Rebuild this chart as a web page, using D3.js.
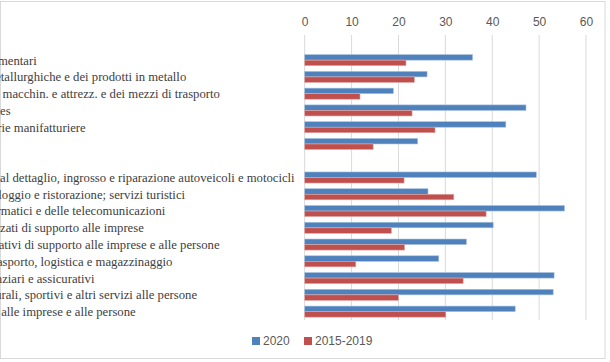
<!DOCTYPE html>
<html><head><meta charset="utf-8">
<script src="https://cdn.jsdelivr.net/npm/d3@7"></script>
<style>body{margin:0;background:#fff;overflow:hidden}</style>
</head><body>
<svg id="c" width="610" height="362"></svg>
<script>
const categories = [
  "Industria",
  "Industrie alimentari",
  "Industrie metallurghiche e dei prodotti in metallo",
  "Ind. fabbric. macchin. e attrezz. e dei mezzi di trasporto",
  "Public utilities",
  "Altre industrie manifatturiere",
  "Costruzioni",
  "Servizi",
  "Commercio al dettaglio, ingrosso e riparazione autoveicoli e motocicli",
  "Servizi di alloggio e ristorazione; servizi turistici",
  "Servizi informatici e delle telecomunicazioni",
  "Servizi avanzati di supporto alle imprese",
  "Servizi operativi di supporto alle imprese e alle persone",
  "Servizi di trasporto, logistica e magazzinaggio",
  "Servizi finanziari e assicurativi",
  "Servizi culturali, sportivi e altri servizi alle persone",
  "Altri servizi alle imprese e alle persone"
];
const values2020 = [null, 35.8, 26.1, 18.9, 47.2, 42.9, 24.1, null, 49.4, 26.3, 55.4, 40.2, 34.5, 28.6, 53.2, 53.0, 44.9];
const values1519 = [null, 21.6, 23.4, 11.8, 22.9, 27.8, 14.6, null, 21.2, 31.8, 38.7, 18.5, 21.3, 10.9, 33.8, 20.0, 30.1];
const seriesNames = ["2020", "2015-2019"];
const seriesColors = ["#4F81BD", "#C0504D"];
const xTicks = [0, 10, 20, 30, 40, 50, 60];

const svg = d3.select("#c");
svg.append("rect").attr("x",0.5).attr("y",1.5).attr("width",604.5).attr("height",357)
  .attr("fill","#fff").attr("stroke","#d9d9d9");

const plotTop = 35, plotBottom = 320;
const x = d3.scaleLinear().domain([0, 60]).range([304.7, 586]);
const y0 = d3.scaleBand().domain(d3.range(categories.length)).range([plotTop, plotBottom])
  .paddingInner(0.34).paddingOuter(0.17);
const y1 = d3.scaleBand().domain(seriesNames).range([0, y0.bandwidth()]);

// gridlines
svg.append("g").selectAll("line").data(xTicks).join("line")
  .attr("x1", d => x(d)).attr("x2", d => x(d))
  .attr("y1", plotTop).attr("y2", plotBottom)
  .attr("stroke", "#d9d9d9").attr("stroke-width", 1);

// top axis
const ax = svg.append("g").attr("transform", `translate(0,${plotTop})`)
  .call(d3.axisTop(x).tickValues(xTicks).tickSize(0).tickPadding(9));
ax.select(".domain").remove();
ax.selectAll("text").attr("fill", "#595959").style("font-family", "Liberation Sans, Arial, sans-serif").style("font-size", "12px");

// bars
const rows = categories.map((c, i) => ({i, vals: [values2020[i], values1519[i]]}));
const g = svg.append("g").selectAll("g").data(rows).join("g")
  .attr("transform", d => `translate(0,${y0(d.i)})`);
g.selectAll("rect").data(d => d.vals.map((v, k) => ({v, k})).filter(e => e.v != null)).join("rect")
  .attr("x", x(0))
  .attr("y", e => y1(seriesNames[e.k]))
  .attr("width", e => x(e.v) - x(0))
  .attr("height", y1.bandwidth())
  .attr("fill", e => seriesColors[e.k])
  .attr("stroke", e => e.k === 0 ? "#a7c0de" : "#e0a8a6").attr("stroke-width", 0.6);

// category labels (left aligned, partly outside the view)
svg.append("g").selectAll("text").data(categories).join("text")
  .attr("x", -63)
  .attr("y", (d, i) => y0(i) + y0.bandwidth() / 2)
  .attr("dy", "0.35em")
  .attr("fill", "#404040")
  .style("font-family", "Liberation Serif, Times New Roman, serif")
  .style("font-size", "12.7px")
  .text(d => d);

// legend
const leg = svg.append("g").attr("transform", "translate(252,341)");
const items = [{n: seriesNames[0], c: seriesColors[0], x: 0}, {n: seriesNames[1], c: seriesColors[1], x: 52}];
const li = leg.selectAll("g").data(items).join("g").attr("transform", d => `translate(${d.x},0)`);
li.append("rect").attr("x", 0).attr("y", -4).attr("width", 8).attr("height", 8).attr("fill", d => d.c);
li.append("text").attr("x", 11).attr("dy", "0.35em").attr("fill", "#595959")
  .style("font-family", "Liberation Sans, Arial, sans-serif").style("font-size", "12px").text(d => d.n);
</script>
</body></html>
